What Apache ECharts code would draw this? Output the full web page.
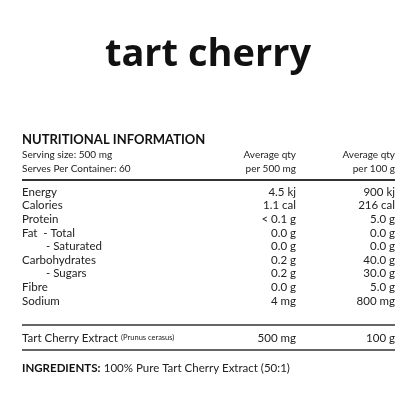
<!DOCTYPE html>
<html>
<head>
<meta charset="utf-8">
<script src="https://cdn.jsdelivr.net/npm/echarts@6/dist/echarts.min.js"></script>
<style>html,body{margin:0;padding:0;background:#fff}#chart{width:416px;height:416px}</style>
</head>
<body>
<div id="chart"></div>
<script>
var nutrients = ['Energy', 'Calories', 'Protein', 'Fat  - Total', '      - Saturated', 'Carbohydrates', '      - Sugars', 'Fibre', 'Sodium'];
var perServe = ['4.5 kj', '1.1 cal', '< 0.1 g', '0.0 g', '0.0 g', '0.2 g', '0.2 g', '0.0 g', '4 mg'];
var per100 = ['900 kj', '216 cal', '5.0 g', '0.0 g', '0.0 g', '40.0 g', '30.0 g', '5.0 g', '800 mg'];

var FONT = 'Lato, "Open Sans", sans-serif';
var C = '#222';
var L = 22, X1 = 296, X2 = 395;

function txt(x, y, s, opt) {
    opt = opt || {};
    return {
        type: 'text', x: x, y: y,
        style: {
            text: s, fill: opt.fill || C, font: (opt.weight || 'normal') + ' ' + (opt.size || 11.5) + 'px ' + (opt.family || FONT),
            textAlign: opt.align || 'left', textVerticalAlign: 'middle'
        }
    };
}
function line(y, w) {
    return { type: 'line', shape: { x1: L, y1: y, x2: X2, y2: y }, style: { stroke: '#333', lineWidth: w || 1.5 } };
}

var els = [];
els.push(txt(208, 55, 'tart cherry', { size: 38, weight: 'bold', align: 'center', family: '"Open Sans", sans-serif', fill: '#111' }));
els.push(txt(L, 140, 'NUTRITIONAL INFORMATION', { size: 13, weight: 'bold', fill: '#111' }));
els.push(txt(L, 155, 'Serving size: 500 mg', { size: 10 }));
els.push(txt(L, 169, 'Serves Per Container: 60', { size: 10 }));
els.push(txt(X1, 155, 'Average qty', { size: 10, align: 'right' }));
els.push(txt(X1, 169, 'per 500 mg', { size: 10, align: 'right' }));
els.push(txt(X2, 155, 'Average qty', { size: 10, align: 'right' }));
els.push(txt(X2, 169, 'per 100 g', { size: 10, align: 'right' }));
els.push(line(180, 2));
nutrients.forEach(function (n, i) {
    var y = 192 + i * 13.6;
    els.push(txt(L, y, n.replace(/^ +/, ''), {}));
    if (/^ +/.test(n)) els[els.length - 1].x = L + 24;
    els.push(txt(X1, y, perServe[i], { align: 'right' }));
    els.push(txt(X2, y, per100[i], { align: 'right' }));
});
els.push(line(325));
els.push({
    type: 'text', x: L, y: 338,
    style: {
        text: '{a|Tart Cherry Extract} {b|(Prunus cerasus)}', textVerticalAlign: 'middle',
        rich: { a: { fill: C, font: '11.5px ' + FONT }, b: { fill: C, font: '7.5px ' + FONT } }
    }
});
els.push(txt(X1, 338, '500 mg', { align: 'right' }));
els.push(txt(X2, 338, '100 g', { align: 'right' }));
els.push(line(350));
els.push({
    type: 'text', x: L, y: 368,
    style: {
        text: '{a|INGREDIENTS:} {b|100% Pure Tart Cherry Extract (50:1)}', textVerticalAlign: 'middle',
        rich: { a: { fill: '#111', font: 'bold 11.5px ' + FONT }, b: { fill: C, font: '11.5px ' + FONT } }
    }
});

var chart = echarts.init(document.getElementById('chart'));
chart.setOption({ backgroundColor: '#fff', graphic: els });
</script>
</body>
</html>
